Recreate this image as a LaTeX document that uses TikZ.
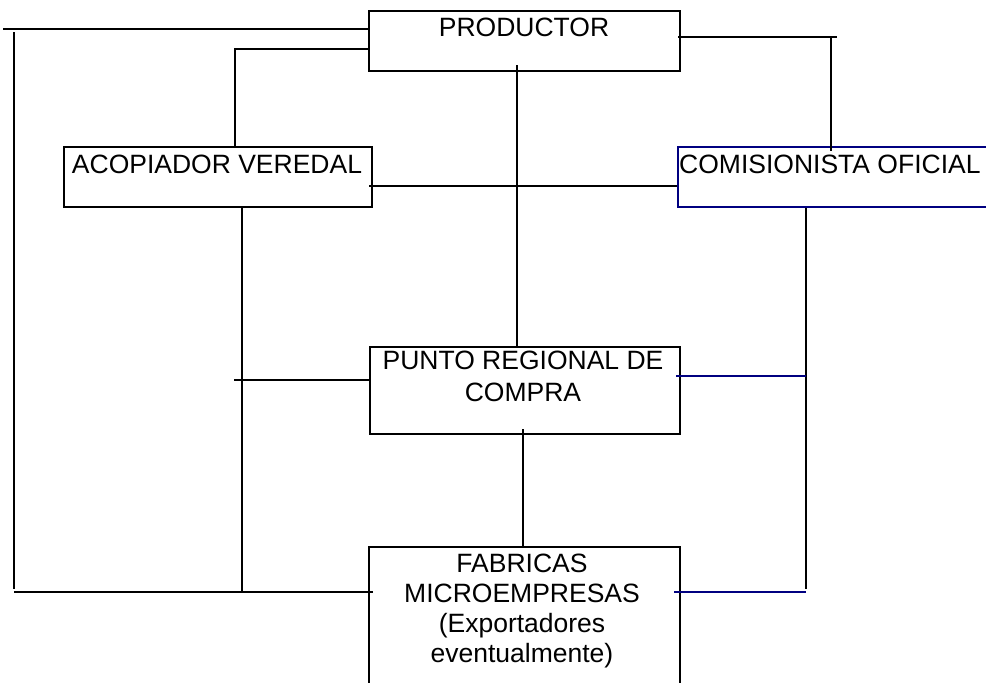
\documentclass[tikz,border=0pt]{standalone}
\usepackage{fontspec}
\setmainfont{Liberation Sans}
\definecolor{navyline}{RGB}{0,0,128}
\tikzset{
  box/.style={draw, line width=1.6pt, inner sep=0pt, anchor=north west},
  lbl/.style={inner sep=0pt, font=\fontsize{26.5}{30}\selectfont, align=center},
  conn/.style={line width=1.6pt},
  blueconn/.style={line width=1.6pt, draw=navyline},
}
\begin{document}
\begin{tikzpicture}[x=1pt,y=-1pt]
\clip (0,0) rectangle (986,683);
\fill[white] (0,0) rectangle (986,683);
% boxes
\node[box, minimum width=311pt, minimum height=60pt] (prod) at (368,10) {};
\node[box, minimum width=308pt, minimum height=60pt] (acop) at (63,146) {};
\node[box, draw=navyline, minimum width=340pt, minimum height=60pt] (comi) at (677,146) {};
\node[box, minimum width=310pt, minimum height=87pt] (punto) at (369,346) {};
\node[box, minimum width=311pt, minimum height=170pt] (fab) at (368,546) {};
% texts
\node[lbl, anchor=base] (prodt) at (524,36) {PRODUCTOR};
\node[lbl, anchor=base] (acopt) at (217,173) {ACOPIADOR VEREDAL};
\node[lbl, anchor=base west] (comit) at (679,173) {COMISIONISTA OFICIAL};
\node[lbl, anchor=north] (puntot) at (523,351) {PUNTO REGIONAL DE\\[2pt]COMPRA};
\node[lbl, anchor=north] (fabt) at (522,554) {FABRICAS\\MICROEMPRESAS\\(Exportadores\\eventualmente)};
% coordinates
\coordinate (a1) at (3,29);
\coordinate (b1) at (14,32);
\coordinate (b2) at (14,589);
\coordinate (b3) at (14,592);
\coordinate (b4) at (373,592);
\coordinate (c1) at (235,49);
\coordinate (d1) at (517,65);
\coordinate (e1) at (369,186);
\coordinate (f1) at (678,37);
\coordinate (f2) at (837,37);
\coordinate (f3) at (831,37);
\coordinate (f4) at (831,151);
\coordinate (g1) at (242,592);
\coordinate (h1) at (234,380);
\coordinate (i1) at (523,429);
\coordinate (j1) at (806,589);
\coordinate (k1) at (806,376);
\coordinate (k0) at (676,376);
\coordinate (l0) at (674,592);
\coordinate (l1) at (806,592);
% connectors
\draw[conn] (a1) -- (a1 -| prod.west);
\draw[conn] (b1) -- (b2);
\draw[conn] (b3) -- (b4);
\draw[conn] (c1 -| prod.west) -- (c1) -- (c1 |- acop.north);
\draw[conn] (d1) -- (d1 |- punto.north);
\draw[conn] (e1) -- (e1 -| comi.west);
\draw[conn] (f1) -- (f2);
\draw[conn] (f3) -- (f4);
\draw[conn] (g1 |- acop.south) -- (g1);
\draw[conn] (h1) -- (h1 -| punto.west);
\draw[conn] (i1) -- (i1 |- fab.north);
\draw[conn] (j1 |- comi.south) -- (j1);
\draw[blueconn] (k0) -- (k1);
\draw[blueconn] (l0) -- (l1);
\end{tikzpicture}
\end{document}
